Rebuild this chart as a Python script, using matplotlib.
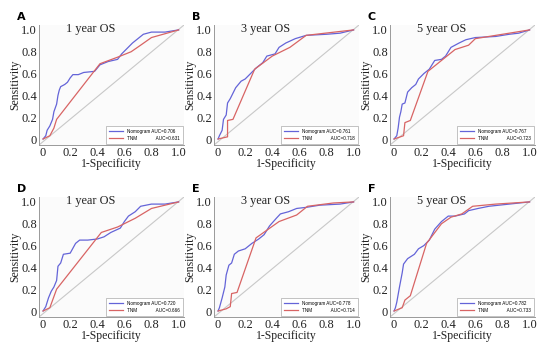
import numpy as np
import matplotlib
matplotlib.use('Agg')
import matplotlib.pyplot as plt

plt.rcParams['font.family'] = 'Liberation Serif'

# panel letters, titles and AUCs
letters = ['A', 'B', 'C', 'D', 'E', 'F']
titles = ['1 year OS', '3 year OS', '5 year OS', '1 year OS', '3 year OS', '5 year OS']
auc_nomo = ['0.706', '0.761', '0.767', '0.720', '0.778', '0.782']
auc_tnm = ['0.631', '0.718', '0.723', '0.666', '0.714', '0.733']

# Nomogram ROC points (fpr, tpr)
nomo_A_x = [0, 0.02, 0.03, 0.05, 0.07, 0.08, 0.10, 0.11, 0.12, 0.13, 0.16, 0.18, 0.20, 0.22, 0.26, 0.30, 0.38, 0.40, 0.42, 0.48, 0.55, 0.58, 0.62, 0.66, 0.70, 0.74, 0.80, 0.90, 1]
nomo_A_y = [0, 0.03, 0.08, 0.12, 0.18, 0.25, 0.32, 0.40, 0.45, 0.48, 0.50, 0.52, 0.56, 0.59, 0.59, 0.61, 0.62, 0.65, 0.68, 0.71, 0.73, 0.78, 0.83, 0.88, 0.92, 0.96, 0.98, 0.98, 1]
tnm_A_x = [0, 0.05, 0.08, 0.10, 0.42, 0.55, 0.65, 0.72, 0.80, 1]
tnm_A_y = [0, 0.03, 0.10, 0.18, 0.69, 0.75, 0.80, 0.86, 0.93, 1]

nomo_B_x = [0, 0.01, 0.03, 0.04, 0.06, 0.07, 0.09, 0.11, 0.13, 0.17, 0.20, 0.24, 0.28, 0.33, 0.36, 0.42, 0.45, 0.50, 0.57, 0.65, 0.80, 0.90, 1]
nomo_B_y = [0, 0.03, 0.08, 0.18, 0.22, 0.33, 0.37, 0.42, 0.47, 0.53, 0.55, 0.60, 0.65, 0.70, 0.76, 0.78, 0.84, 0.88, 0.92, 0.95, 0.96, 0.97, 1]
tnm_B_x = [0, 0.07, 0.07, 0.11, 0.27, 0.40, 0.53, 0.65, 1]
tnm_B_y = [0, 0.02, 0.17, 0.18, 0.64, 0.76, 0.84, 0.95, 1]

nomo_C_x = [0, 0.02, 0.03, 0.04, 0.05, 0.06, 0.08, 0.10, 0.13, 0.16, 0.18, 0.22, 0.26, 0.30, 0.35, 0.38, 0.42, 0.48, 0.53, 0.60, 0.75, 0.85, 0.92, 1]
nomo_C_y = [0, 0.03, 0.10, 0.20, 0.25, 0.32, 0.33, 0.43, 0.47, 0.50, 0.55, 0.60, 0.64, 0.72, 0.73, 0.76, 0.84, 0.88, 0.91, 0.93, 0.94, 0.96, 0.97, 1]
tnm_C_x = [0, 0.07, 0.08, 0.12, 0.25, 0.38, 0.45, 0.55, 0.60, 0.80, 1]
tnm_C_y = [0, 0.03, 0.15, 0.17, 0.62, 0.75, 0.82, 0.86, 0.92, 0.96, 1]

nomo_D_x = [0, 0.02, 0.04, 0.06, 0.08, 0.10, 0.11, 0.13, 0.15, 0.20, 0.24, 0.27, 0.33, 0.40, 0.45, 0.50, 0.57, 0.60, 0.63, 0.68, 0.72, 0.80, 0.90, 1]
nomo_D_y = [0, 0.04, 0.12, 0.18, 0.22, 0.28, 0.41, 0.44, 0.52, 0.53, 0.62, 0.65, 0.65, 0.66, 0.68, 0.72, 0.76, 0.82, 0.87, 0.91, 0.96, 0.98, 0.98, 1]
tnm_D_x = [0, 0.05, 0.10, 0.43, 0.55, 0.68, 0.80, 1]
tnm_D_y = [0, 0.03, 0.20, 0.72, 0.77, 0.85, 0.94, 1]

nomo_E_x = [0, 0.01, 0.03, 0.05, 0.06, 0.08, 0.10, 0.12, 0.15, 0.20, 0.25, 0.30, 0.34, 0.38, 0.43, 0.46, 0.52, 0.58, 0.65, 0.75, 0.90, 1]
nomo_E_y = [0, 0.03, 0.12, 0.22, 0.33, 0.42, 0.44, 0.52, 0.55, 0.57, 0.62, 0.66, 0.70, 0.78, 0.85, 0.89, 0.91, 0.94, 0.95, 0.97, 0.98, 1]
tnm_E_x = [0, 0.06, 0.09, 0.10, 0.14, 0.28, 0.45, 0.58, 0.66, 0.85, 1]
tnm_E_y = [0, 0.02, 0.04, 0.16, 0.17, 0.67, 0.82, 0.88, 0.96, 0.99, 1]

nomo_F_x = [0, 0.01, 0.02, 0.04, 0.06, 0.07, 0.10, 0.15, 0.18, 0.22, 0.26, 0.30, 0.35, 0.40, 0.45, 0.52, 0.55, 0.62, 0.70, 0.85, 1]
nomo_F_y = [0, 0.03, 0.08, 0.22, 0.35, 0.43, 0.48, 0.52, 0.57, 0.60, 0.65, 0.75, 0.82, 0.87, 0.87, 0.89, 0.92, 0.94, 0.96, 0.98, 1]
tnm_F_x = [0, 0.06, 0.08, 0.12, 0.24, 0.35, 0.42, 0.50, 0.58, 0.75, 1]
tnm_F_y = [0, 0.03, 0.10, 0.14, 0.62, 0.80, 0.86, 0.89, 0.96, 0.98, 1]

nomo_x = [nomo_A_x, nomo_B_x, nomo_C_x, nomo_D_x, nomo_E_x, nomo_F_x]
nomo_y = [nomo_A_y, nomo_B_y, nomo_C_y, nomo_D_y, nomo_E_y, nomo_F_y]
tnm_x = [tnm_A_x, tnm_B_x, tnm_C_x, tnm_D_x, tnm_E_x, tnm_F_x]
tnm_y = [tnm_A_y, tnm_B_y, tnm_C_y, tnm_D_y, tnm_E_y, tnm_F_y]

ticks = [0, 0.2, 0.4, 0.6, 0.8, 1.0]
ticklabels = ['0', '0.2', '0.4', '0.6', '0.8', '1.0']

W, H = 545, 345
fig = plt.figure(figsize=(W / 100, H / 100), dpi=100)

col_left = [39, 214, 390]
row_top = [25, 197]
aw, ah = 145, 120

blue = '#6464d8'
red = '#d86464'
txt = '#222222'

for i in range(6):
    r, c = divmod(i, 3)
    L = col_left[c]
    T = row_top[r]
    ax = fig.add_axes([L / W, (H - T - ah) / H, aw / W, ah / H])
    ax.set_facecolor('#fbfbfb')
    # reference diagonal
    ax.plot([0, 1], [0, 1], transform=ax.transAxes, color='#c8c8c8', lw=0.8)
    ax.plot(nomo_x[i], nomo_y[i], color=blue, lw=0.9,
            label='Nomogram AUC=' + auc_nomo[i])
    ax.plot(tnm_x[i], tnm_y[i], color=red, lw=0.9,
            label='TNM               AUC=' + auc_tnm[i])
    ax.set_xlim(-0.03, 1.04)
    ax.set_ylim(-0.055, 1.045)
    ax.set_xticks(ticks)
    ax.set_xticklabels(ticklabels)
    ax.set_yticks(ticks)
    ax.set_yticklabels(ticklabels)
    ax.tick_params(length=0, labelsize=9, labelcolor=txt, pad=1.5)
    for s in ['top', 'right']:
        ax.spines[s].set_visible(False)
    for s in ['left', 'bottom']:
        ax.spines[s].set_color('#999999')
        ax.spines[s].set_linewidth(0.7)
    ax.set_xlabel('1-Specificity', fontsize=8.5, color=txt, labelpad=-1)
    ax.set_ylabel('Sensitivity', fontsize=8.5, color=txt, labelpad=0)
    ax.text(0.35, 1.01, titles[i], fontsize=8.8, color=txt, ha='center', va='center')
    leg = ax.legend(loc='lower right', prop={'family': 'Liberation Sans', 'size': 3.3},
                    handlelength=3.2, borderpad=0.6, borderaxespad=0.3, frameon=True,
                    fancybox=False, edgecolor='#aaaaaa', framealpha=1)
    leg.get_frame().set_linewidth(0.5)
    fig.text((L - 22) / W, 1 - (T - 8) / H, letters[i], fontsize=8, fontweight='bold',
             family='DejaVu Sans', ha='left', va='center')

fig.savefig('out.png', dpi=100, facecolor='white')
